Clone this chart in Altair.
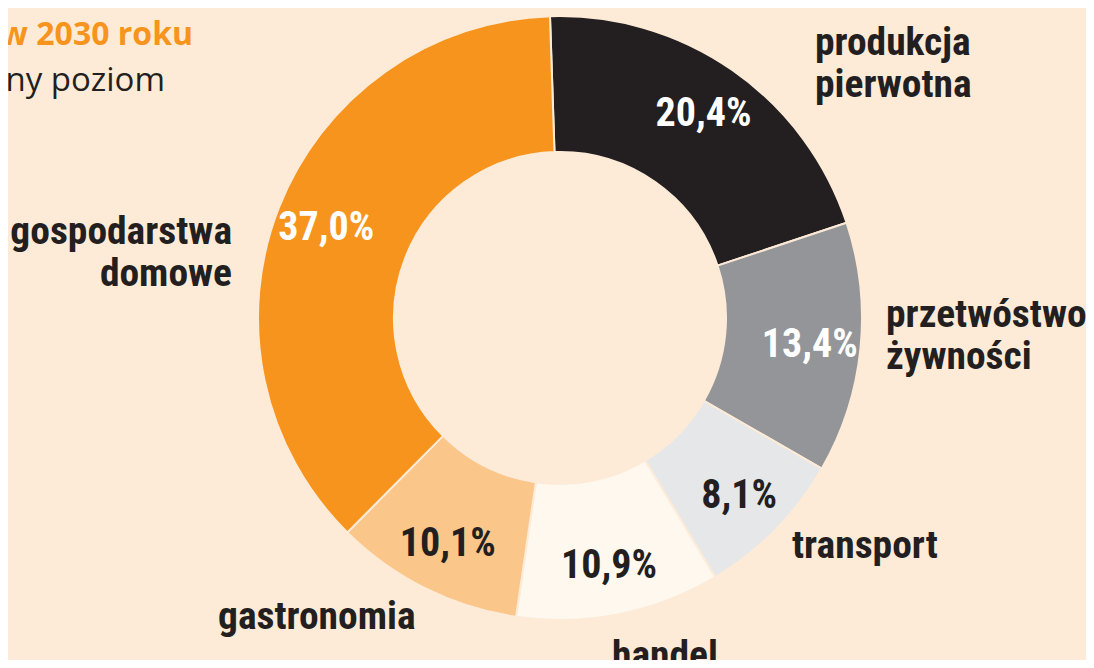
import math
import altair as alt
import pandas as pd

# ---- data ----
categories = ["produkcja pierwotna", "przetwórstwo żywności", "transport",
              "handel", "gastronomia", "gospodarstwa domowe"]
shares = [20.4, 13.4, 8.1, 10.9, 10.1, 37.0]
pct_labels = ["20,4%", "13,4%", "8,1%", "10,9%", "10,1%", "37,0%"]

# ---- style ----
BG = "#FDEBD8"
slice_colors = ["#231F20", "#939598", "#E6E7E8", "#FEF8EF", "#FBC68A", "#F7941D"]
text_colors = ["#FFFFFF", "#FFFFFF", "#231F20", "#231F20", "#231F20", "#FFFFFF"]
DARK = "#231F20"
ORANGE = "#F7941D"
COND = "Roboto Condensed, Open Sans Condensed, Lato, sans-serif"

W, H = 1078, 652
CX, CY = 552, 310
R_OUT, R_IN, R_LBL = 302, 166, 251
start = math.radians(-1.9)

df = pd.DataFrame({
    "cat": categories,
    "value": shares,
    "label": pct_labels,
    "order": list(range(len(categories))),
})
one = pd.DataFrame({"k": [0]})

theta = alt.Theta("value:Q", stack=True,
                  scale=alt.Scale(range=[start, start + 2 * math.pi]))
order = alt.Order("order:Q", sort="ascending")

base = alt.Chart(df)

arcs = base.mark_arc(outerRadius=R_OUT, innerRadius=R_IN, stroke=BG,
                     strokeWidth=2).encode(
    theta=theta,
    order=order,
    x=alt.value(CX), y=alt.value(CY),
    color=alt.Color("cat:N", scale=alt.Scale(domain=categories, range=slice_colors),
                    legend=None),
)

pcts = base.mark_text(radius=R_LBL, font=COND, fontSize=40, fontWeight="bold",
                      align="center", baseline="middle").encode(
    theta=theta,
    order=order,
    x=alt.value(CX), y=alt.value(CY + 2),
    text="label:N",
    fill=alt.Fill("cat:N", scale=alt.Scale(domain=categories, range=text_colors),
                  legend=None),
)


def lbl(text, x, y, align="left"):
    return alt.Chart(one).mark_text(
        text=text, lineBreak="\n", font=COND, fontSize=39.5, fontWeight="bold",
        color=DARK, align=align, baseline="alphabetic", lineHeight=42,
    ).encode(x=alt.value(x), y=alt.value(y))


labels = [
    lbl("produkcja\npierwotna", 807, 47),
    lbl("przetwóstwo\nżywności", 878, 319),
    lbl("transport", 784, 550),
    lbl("handel", 604, 660),
    lbl("gastronomia", 210, 621),
    lbl("gospodarstwa\ndomowe", 224, 236, align="right"),
]

top1 = alt.Chart(one).mark_text(
    text="w 2030 roku", font="Open Sans", fontSize=32, fontWeight="bold",
    color=ORANGE, align="right", baseline="alphabetic",
).encode(x=alt.value(185), y=alt.value(37))

top2 = alt.Chart(one).mark_text(
    text="ny poziom", font="Open Sans", fontSize=33, fontWeight="normal",
    color=DARK, align="right", baseline="alphabetic",
).encode(x=alt.value(157), y=alt.value(83))

chart = alt.layer(arcs, pcts, *labels, top1, top2).resolve_scale(
    color="independent", fill="independent"
).properties(
    width=W, height=H, background=BG, padding=0,
    autosize=alt.AutoSizeParams(type="none"),
).configure_view(stroke=None)

chart.save("out.html", embed_options={"renderer": "svg", "actions": False})
